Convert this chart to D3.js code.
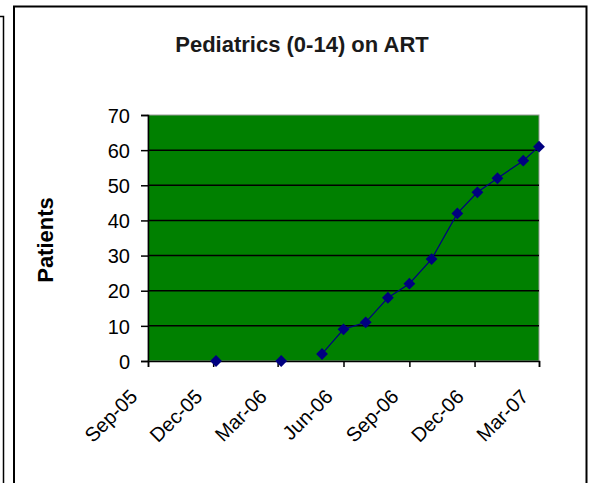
<!DOCTYPE html>
<html>
<head>
<meta charset="utf-8">
<script src="https://cdn.jsdelivr.net/npm/d3@7"></script>
<style>
  body { margin: 0; background: #fff; }
  text { font-family: Arial, "Liberation Sans", sans-serif; }
</style>
</head>
<body>
<div id="chart"></div>
<script>
// data
var dates = ["2005-12-05", "2006-03-06", "2006-05-02", "2006-06-01", "2006-07-02", "2006-08-02",
  "2006-09-01", "2006-10-02", "2006-11-07", "2006-12-05", "2007-01-02", "2007-02-07", "2007-03-01"];
var patients = [0, 0, 2, 9, 11, 18, 22, 29, 42, 48, 52, 57, 61];
// the line is broken after the second point
var lineStart = 2;
var yTicks = [0, 10, 20, 30, 40, 50, 60, 70];
var axisStart = "2005-09-01";
var axisEnd = "2007-03-01";

var svgWidth = 590;
var svgHeight = 483;

var margin = { top: 115, right: 51, bottom: 122, left: 148 };
var width = svgWidth - margin.left - margin.right;
var height = svgHeight - margin.top - margin.bottom;

var parse = d3.timeParse("%Y-%m-%d");
var data = dates.map(function(d, i) {
  return { date: parse(d), value: patients[i] };
});

var svg = d3.select("#chart")
  .append("svg")
  .attr("width", svgWidth)
  .attr("height", svgHeight);

// frames (chart border and edge of neighbouring chart)
svg.append("path")
  .attr("d", "M0,16.5H3.5V483")
  .attr("fill", "none")
  .attr("stroke", "#000")
  .attr("stroke-width", 1.5);
svg.append("path")
  .attr("d", "M14,490V6.5H586.5V490")
  .attr("fill", "none")
  .attr("stroke", "#000")
  .attr("stroke-width", 2);

svg.append("text")
  .attr("x", 302)
  .attr("y", 52)
  .attr("text-anchor", "middle")
  .style("font-size", "22px")
  .style("font-weight", "bold")
  .style("fill", "#1a1a1a")
  .text("Pediatrics (0-14) on ART");

var chartGroup = svg.append("g")
  .attr("transform", `translate(${margin.left}, ${margin.top})`);

var xTimeScale = d3.scaleTime()
  .domain([parse(axisStart), parse(axisEnd)])
  .range([0, width]);

var yLinearScale = d3.scaleLinear()
  .domain([0, 70])
  .range([height, 0]);

// plot area
chartGroup.append("rect")
  .attr("width", width)
  .attr("height", height)
  .attr("fill", "#008000")
  .attr("stroke", "#9a9a9a")
  .attr("stroke-width", 1);

// gridlines
chartGroup.selectAll(".grid")
  .data(yTicks.slice(1, -1))
  .enter()
  .append("line")
  .attr("x1", 0)
  .attr("x2", width)
  .attr("y1", d => yLinearScale(d))
  .attr("y2", d => yLinearScale(d))
  .attr("stroke", "#000")
  .attr("stroke-width", 1.5);

var leftAxis = d3.axisLeft(yLinearScale)
  .tickValues(yTicks)
  .tickSize(7)
  .tickPadding(11);

var yAxis = chartGroup.append("g").call(leftAxis);
yAxis.select(".domain").attr("stroke-width", 1.5);
yAxis.selectAll("line").attr("stroke-width", 1.5);
yAxis.selectAll("text")
  .style("font-size", "20px")
  .style("fill", "#000")
  .attr("dy", "0.36em");

// quarterly ticks starting at the axis start
var xTicks = d3.timeMonth.range(parse(axisStart), d3.timeDay.offset(parse(axisEnd), 1), 3);

var bottomAxis = d3.axisBottom(xTimeScale)
  .tickValues(xTicks)
  .tickFormat(d3.timeFormat("%b-%y"))
  .tickSize(6);

var xAxis = chartGroup.append("g")
  .attr("transform", `translate(0, ${height})`)
  .call(bottomAxis);
xAxis.select(".domain").attr("stroke-width", 1.5);
xAxis.selectAll("line").attr("stroke-width", 1.5);
xAxis.selectAll("text")
  .style("font-size", "20px")
  .style("fill", "#000")
  .attr("text-anchor", "end")
  .attr("dy", null)
  .attr("y", 0)
  .attr("transform", "translate(-10, 37) rotate(-45)");

// series line
var line = d3.line()
  .x(d => xTimeScale(d.date))
  .y(d => yLinearScale(d.value));

chartGroup.append("path")
  .datum(data.slice(lineStart))
  .attr("d", line)
  .attr("fill", "none")
  .attr("stroke", "#000080")
  .attr("stroke-width", 1.2);

// diamond markers
chartGroup.selectAll(".marker")
  .data(data)
  .enter()
  .append("path")
  .attr("class", "marker")
  .attr("d", d3.symbol(d3.symbolSquare, 70))
  .attr("transform", d => `translate(${xTimeScale(d.date)}, ${yLinearScale(d.value)}) rotate(45)`)
  .attr("fill", "#000080");

svg.append("text")
  .attr("transform", "translate(53, 240) rotate(-90)")
  .attr("text-anchor", "middle")
  .style("font-size", "22px")
  .style("font-weight", "bold")
  .style("fill", "#000")
  .text("Patients");
</script>
</body>
</html>
